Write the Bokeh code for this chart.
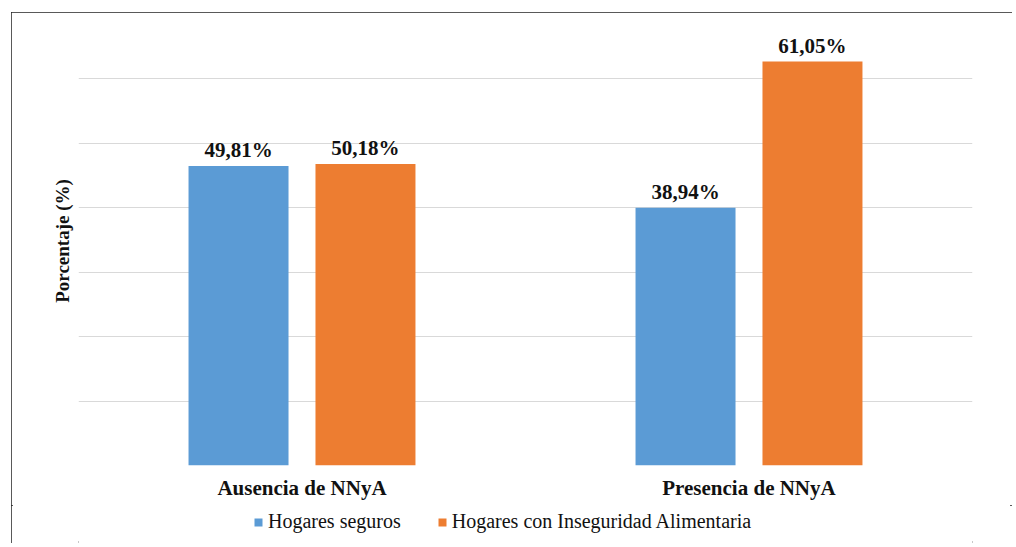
from bokeh.plotting import figure
from bokeh.layouts import column
from bokeh.models import FactorRange, Range1d, FixedTicker, ColumnDataSource, Legend, LegendItem
from bokeh.transform import dodge
from bokeh.core.properties import value
from bokeh.embed import file_html
from bokeh.resources import INLINE

categories = ["Ausencia de NNyA", "Presencia de NNyA"]
series_names = ["Hogares seguros", "Hogares con Inseguridad Alimentaria"]
# bar heights as drawn in the picture (0-60 grid, 10 per gridline)
seguros = [46.5, 40.0]
inseguridad = [46.8, 62.7]
# printed data labels
seguros_labels = ["49,81%", "38,94%"]
inseguridad_labels = ["50,18%", "61,05%"]
grid_ticks = [0, 10, 20, 30, 40, 50, 60]

BLUE = "#5B9BD5"
ORANGE = "#ED7D31"
FONT = "Liberation Serif"

src = ColumnDataSource(dict(cat=categories, seg=seguros, ins=inseguridad,
                            seg_lab=seguros_labels, ins_lab=inseguridad_labels))

p = figure(x_range=FactorRange(factors=categories, range_padding=0),
           y_range=Range1d(0, 69.7),
           frame_width=894, frame_height=449, output_backend="svg", toolbar_location=None,
           min_border_left=67, min_border_right=40, min_border_top=4, min_border_bottom=40)
p.outline_line_color = None
p.background_fill_color = "white"
p.border_fill_color = "white"

off = 0.142
w = 0.2237
r1 = p.vbar(x=dodge("cat", -off, range=p.x_range), top="seg", width=w, source=src,
            fill_color=BLUE, line_color=None)
r2 = p.vbar(x=dodge("cat", off, range=p.x_range), top="ins", width=w, source=src,
            fill_color=ORANGE, line_color=None)

p.text(x=dodge("cat", -off, range=p.x_range), y="seg", text="seg_lab", source=src,
       text_align="center", text_baseline="alphabetic", y_offset=-16,
       text_font=value(FONT), text_font_style="bold", text_font_size="21px", text_color="#111")
p.text(x=dodge("cat", off, range=p.x_range), y="ins", text="ins_lab", source=src,
       text_align="center", text_baseline="alphabetic", y_offset=-16,
       text_font=value(FONT), text_font_style="bold", text_font_size="21px", text_color="#111")

p.xgrid.grid_line_color = None
p.ygrid.ticker = FixedTicker(ticks=grid_ticks)
p.ygrid.grid_line_color = "#d9d9d9"
p.ygrid.grid_line_width = 1

p.yaxis.ticker = FixedTicker(ticks=grid_ticks)
p.yaxis.major_label_text_alpha = 0
p.yaxis.major_label_text_font_size = "1px"
p.yaxis.major_tick_line_color = None
p.yaxis.minor_tick_line_color = None
p.yaxis.axis_line_color = None
p.yaxis.major_label_standoff = 0
p.yaxis.axis_label = "Porcentaje (%)"
p.yaxis.axis_label_text_font = FONT
p.yaxis.axis_label_text_font_style = "bold"
p.yaxis.axis_label_text_font_size = "19px"
p.yaxis.axis_label_text_color = "#111"
p.yaxis.axis_label_standoff = 0

p.xaxis.axis_line_color = None
p.xaxis.major_tick_line_color = None
p.xaxis.minor_tick_line_color = None
p.xaxis.major_label_standoff = 4
p.xaxis.major_label_text_font = FONT
p.xaxis.major_label_text_font_style = "bold"
p.xaxis.major_label_text_font_size = "21px"
p.xaxis.major_label_text_color = "#111"

# legend strip below the chart (same frame geometry as the main plot)
p2 = figure(x_range=FactorRange(factors=categories, range_padding=0),
            y_range=Range1d(1000, 1001),
            frame_width=894, frame_height=38, output_backend="svg", toolbar_location=None,
            x_axis_type=None, y_axis_type=None,
            min_border_left=67, min_border_right=40, min_border_top=0, min_border_bottom=0)
p2.outline_line_color = None
p2.xgrid.grid_line_color = None
p2.ygrid.grid_line_color = None
p2.border_fill_color = "white"
l1 = p2.vbar(x="cat", top="seg", width=w, source=src, fill_color=BLUE, line_color=None)
l2 = p2.vbar(x="cat", top="ins", width=w, source=src, fill_color=ORANGE, line_color=None)

legend = Legend(items=[LegendItem(label=series_names[0], renderers=[l1]),
                       LegendItem(label=series_names[1], renderers=[l2])],
                orientation="horizontal", location=(175, 10),
                label_text_font=FONT, label_text_font_size="20px", label_text_color="#111",
                glyph_width=10, glyph_height=10, label_standoff=5, spacing=36,
                label_height=20, padding=2, margin=0,
                border_line_color=None, background_fill_alpha=0)
p2.add_layout(legend, "center")

layout = column(p, p2, margin=(12, 0, 0, 11),
                styles={"outline": "2px solid #222", "outline-offset": "-2px"})

open("out.html", "w").write(file_html(layout, INLINE))
